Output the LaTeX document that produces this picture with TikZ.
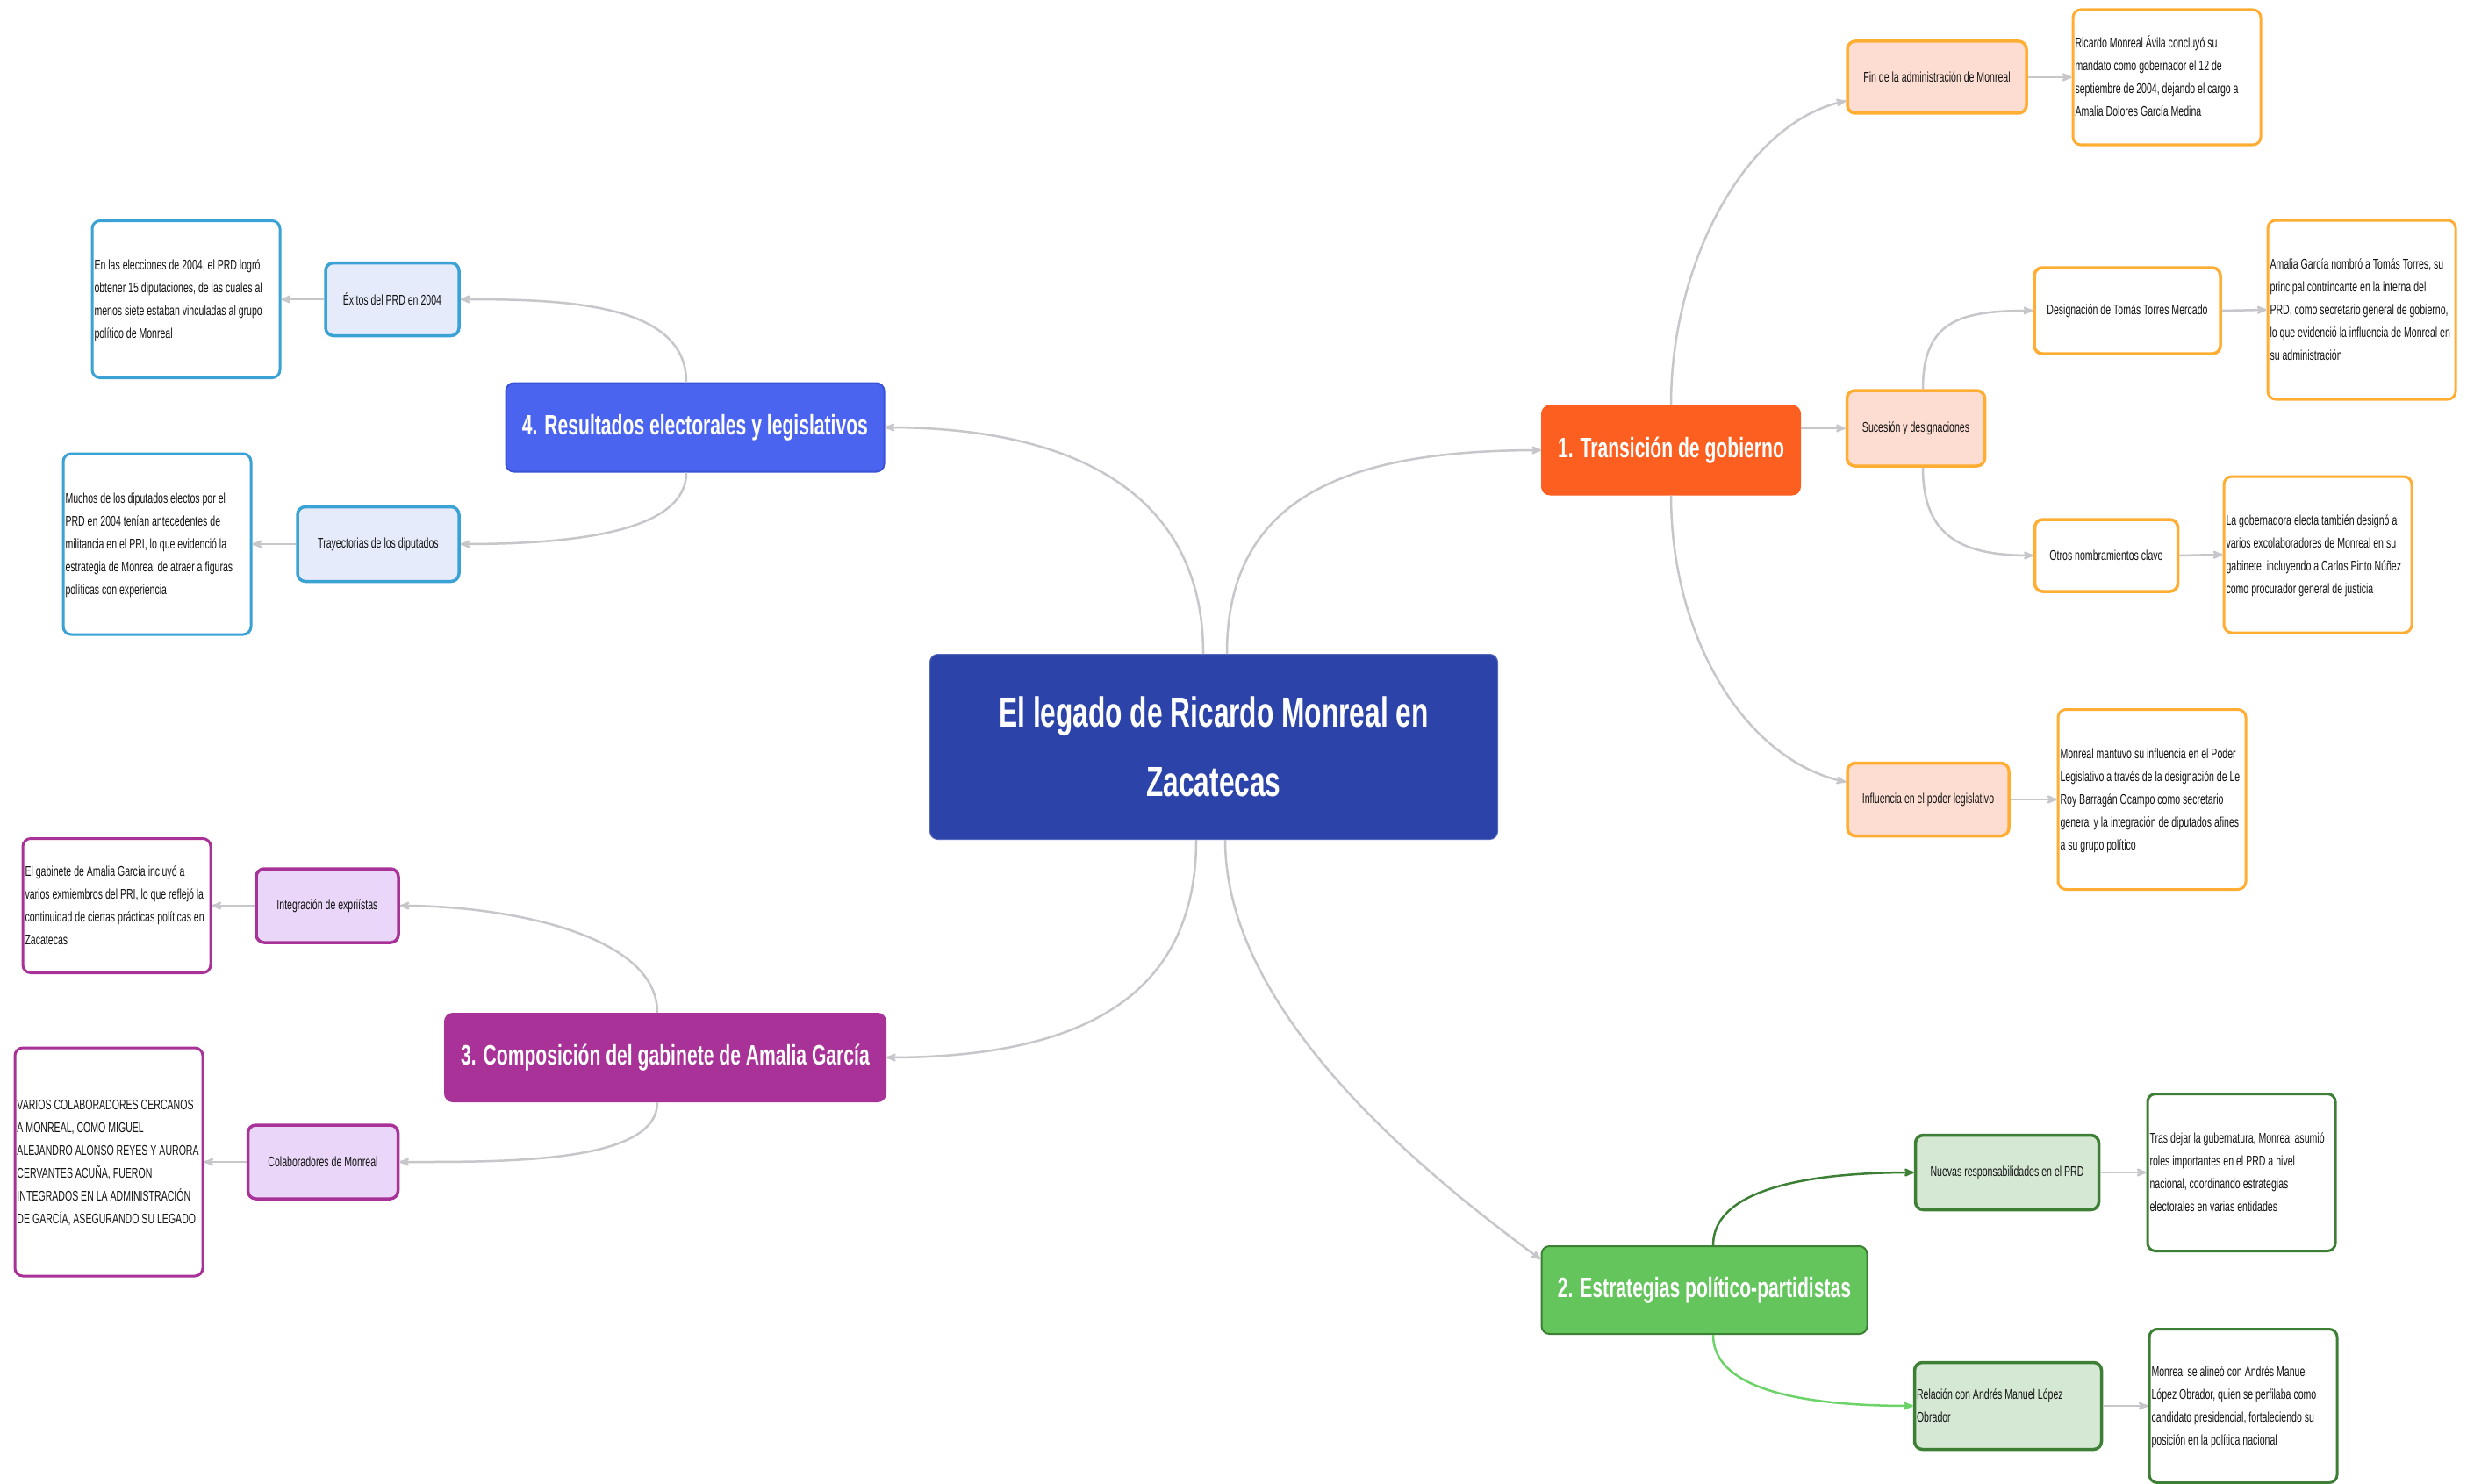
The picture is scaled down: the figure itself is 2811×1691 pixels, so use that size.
\documentclass[tikz,border=0pt]{standalone}
\usepackage{fontspec}
\setmainfont[FakeStretch=0.66]{Liberation Sans}
\usetikzlibrary{arrows}
\definecolor{raizazul}{HTML}{2C44A9}
\definecolor{naranja}{HTML}{FD5F21}
\definecolor{naranjab}{HTML}{FFAE33}
\definecolor{durazno}{HTML}{FDDDD2}
\definecolor{verde}{HTML}{63C55C}
\definecolor{verdeo}{HTML}{3C7F35}
\definecolor{verdec}{HTML}{D5E8D4}
\definecolor{verdel}{HTML}{6BD368}
\definecolor{magen}{HTML}{A83297}
\definecolor{lila}{HTML}{E9D6F8}
\definecolor{azul}{HTML}{4B64F0}
\definecolor{azulo}{HTML}{3A52D6}
\definecolor{celeste}{HTML}{3AA2D4}
\definecolor{azulc}{HTML}{E6EBFC}
\definecolor{gris}{HTML}{C6C6CB}
\newcommand{\lineas}[1]{{\spaceskip=0pt\xspaceskip=0pt
  \begin{tabular}{@{}l@{}}#1\end{tabular}}}% texto sin cortes
\tikzset{
  mapnode/.style = {align=center, inner sep=3pt, rounded corners=9pt,
    text=black!92, font=\fontsize{16}{26}\selectfont},
  map_root/.style = {mapnode, fill=raizazul, draw=raizazul!80!white,
    line width=1pt, text=white, font=\bfseries\fontsize{48}{79}\selectfont},% nodo central
  map_br/.style 2 args = {mapnode, draw=#1, fill=#2, line width=2pt,
    text=white, font=\bfseries\fontsize{32}{38}\selectfont},% rama principal
  map_sub/.style 2 args = {mapnode, draw=#1, fill=#2, line width=3.5pt},% subtema
  map_det/.style = {mapnode, draw=#1, fill=white, line width=3pt,
    align=left, text width=209pt, inner xsep=2.5pt},% detalle
  wh/.style 2 args = {minimum width=#1pt, minimum height=#2pt},
  enlace/.style = {->, draw=#1, line width=2.5pt},
  enlace/.default = gris,
}

\begin{document}
\begin{tikzpicture}[x=1pt, y=-1pt, >=stealth']
\fill[white] (0,0) rectangle (2811,1691);
\useasboundingbox (0,0) rectangle (2811,1691);

\node[map_root, wh={647}{211}] (raiz) at (1383,851)
  {El legado de Ricardo Monreal en\\Zacatecas};

% 1. transicion
\node[map_br={naranja}{naranja}, wh={294}{101}] (r1) at (1904,513) {1. Transición de gobierno};
\node[map_sub={naranjab}{durazno}, wh={204}{82}] (fin) at (2207,88) {Fin de la administración de Monreal};
\node[map_sub={naranjab}{durazno}, wh={157}{86}] (suc) at (2183,488) {Sucesión y designaciones};
\node[map_sub={naranjab}{white}, wh={212}{98}] (tom) at (2424,354) {Designación de Tomás Torres Mercado};
\node[map_sub={naranjab}{white}, wh={163}{82}] (otr) at (2400,633) {Otros nombramientos clave};
\node[map_sub={naranjab}{durazno}, wh={184}{83}] (inf) at (2197,911) {Influencia en el poder legislativo};
\node[map_det=naranjab, minimum height=154pt] (fin_d) at (2469,88)
  {\lineas{Ricardo Monreal Ávila concluyó su\\mandato como gobernador el 12 de\\septiembre de 2004, dejando el cargo a\\Amalia Dolores García Medina}};
\node[map_det=naranjab, minimum height=204pt] (tom_d) at (2691,353)
  {\lineas{Amalia García nombró a Tomás Torres, su\\principal contrincante en la interna del\\PRD, como secretario general de gobierno,\\lo que evidenció la influencia de Monreal en\\su administración}};
\node[map_det=naranjab, minimum height=178pt] (otr_d) at (2641,632)
  {\lineas{La gobernadora electa también designó a\\varios excolaboradores de Monreal en su\\gabinete, incluyendo a Carlos Pinto Núñez\\como procurador general de justicia}};
\node[map_det=naranjab, minimum height=205pt] (inf_d) at (2452,911)
  {\lineas{Monreal mantuvo su influencia en el Poder\\Legislativo a través de la designación de Le\\Roy Barragán Ocampo como secretario\\general y la integración de diputados afines\\a su grupo político}};

% 2. estrategias
\node[map_br={verdeo}{verde}, wh={371}{100}] (r2) at (1942,1470) {2. Estrategias político-partidistas};
\node[map_sub={verdeo}{verdec}, wh={209}{85}] (nue) at (2287,1336) {Nuevas responsabilidades en el PRD};
\node[map_sub={verdeo}{verdec}, wh={213}{99}, align=left, text width=208pt, inner xsep=2.5pt] (amlo) at (2288,1602)
  {\lineas{Relación con Andrés Manuel López\\Obrador}};
\node[map_det=verdeo, minimum height=179pt] (nue_d) at (2554,1336)
  {\lineas{Tras dejar la gubernatura, Monreal asumió\\roles importantes en el PRD a nivel\\nacional, coordinando estrategias\\electorales en varias entidades}};
\node[map_det=verdeo, minimum height=175pt] (amlo_d) at (2556,1602)
  {\lineas{Monreal se alineó con Andrés Manuel\\López Obrador, quien se perfilaba como\\candidato presidencial, fortaleciendo su\\posición en la política nacional}};

% 3. gabinete
\node[map_br={magen}{magen}, wh={502}{100}] (r3) at (758,1205) {3. Composición del gabinete de Amalia García};
\node[map_sub={magen}{lila}, wh={162}{84}] (pri) at (373,1032) {Integración de expriístas};
\node[map_sub={magen}{lila}, wh={171}{84}] (col) at (368,1324) {Colaboradores de Monreal};
\node[map_det=magen, minimum height=153pt] (pri_d) at (133,1032)
  {\lineas{El gabinete de Amalia García incluyó a\\varios exmiembros del PRI, lo que reflejó la\\continuidad de ciertas prácticas políticas en\\Zacatecas}};
\node[map_det=magen, minimum height=260pt] (col_d) at (124,1324)
  {\lineas{VARIOS COLABORADORES CERCANOS\\A MONREAL, COMO MIGUEL\\ALEJANDRO ALONSO REYES Y AURORA\\CERVANTES ACUÑA, FUERON\\INTEGRADOS EN LA ADMINISTRACIÓN\\DE GARCÍA, ASEGURANDO SU LEGADO}};

% 4. resultados
\node[map_br={azulo}{azul}, wh={431}{101}] (r4) at (792,487) {4. Resultados electorales y legislativos};
\node[map_sub={celeste}{azulc}, wh={152}{83}] (exi) at (447,341) {Éxitos del PRD en 2004};
\node[map_sub={celeste}{azulc}, wh={184}{85}] (tra) at (431,620) {Trayectorias de los diputados};
\node[map_det=celeste, minimum height=179pt] (exi_d) at (212,341)
  {\lineas{En las elecciones de 2004, el PRD logró\\obtener 15 diputaciones, de las cuales al\\menos siete estaban vinculadas al grupo\\político de Monreal}};
\node[map_det=celeste, minimum height=206pt] (tra_d) at (179,620)
  {\lineas{Muchos de los diputados electos por el\\PRD en 2004 tenían antecedentes de\\militancia en el PRI, lo que evidenció la\\estrategia de Monreal de atraer a figuras\\políticas con experiencia}};

% enlaces del centro
\draw[enlace] ([xshift=15pt]raiz.north) .. controls +(0,-180) and +(-220,0) .. (r1.west);
\draw[enlace] ([xshift=13pt]raiz.south) .. controls +(0,190) and +(-150,-110) .. ([yshift=35pt]r2.west);
\draw[enlace] ([xshift=-20pt]raiz.south) .. controls +(0,180) and +(220,0) .. (r3.east);
\draw[enlace] ([xshift=-12pt]raiz.north) .. controls +(0,-180) and +(220,0) .. (r4.east);

% enlaces de las ramas
\draw[enlace] (r1.north) .. controls +(0,-162) and +(-115,25) .. ([yshift=-27pt]fin.west);
\draw[enlace] (r1.east |- suc.west) -- (suc.west);
\draw[enlace] (r1.south) .. controls +(0,162) and +(-115,-25) .. ([yshift=20pt]inf.west);
\draw[enlace] ([xshift=8pt]suc.north) .. controls +(0,-80) and +(-80,0) .. (tom.west);
\draw[enlace] ([xshift=8pt]suc.south) .. controls +(0,80) and +(-80,0) .. (otr.west);
\draw[enlace=verdeo] ([xshift=10pt]r2.north) .. controls +(0,-70) and +(-100,0) .. (nue.west);
\draw[enlace=verdel] ([xshift=10pt]r2.south) .. controls +(0,70) and +(-100,0) .. (amlo.west);
\draw[enlace] ([xshift=-9pt]r3.north) .. controls +(0,-90) and +(120,0) .. (pri.east);
\draw[enlace] ([xshift=-9pt]r3.south) .. controls +(0,70) and +(120,0) .. (col.east);
\draw[enlace] ([xshift=-10pt]r4.north) .. controls +(0,-90) and +(120,0) .. (exi.east);
\draw[enlace] ([xshift=-10pt]r4.south) .. controls +(0,70) and +(120,0) .. (tra.east);

% enlaces a los detalles
\draw[enlace] (fin.east) -- (fin_d.west);
\draw[enlace] (tom.east) -- (tom_d.west);
\draw[enlace] (otr.east) -- (otr_d.west);
\draw[enlace] (inf.east) -- (inf_d.west);
\draw[enlace] (nue.east) -- (nue_d.west);
\draw[enlace] (amlo.east) -- (amlo_d.west);
\draw[enlace] (pri.west) -- (pri_d.east);
\draw[enlace] (col.west) -- (col_d.east);
\draw[enlace] (exi.west) -- (exi_d.east);
\draw[enlace] (tra.west) -- (tra_d.east);
\end{tikzpicture}
\end{document}
